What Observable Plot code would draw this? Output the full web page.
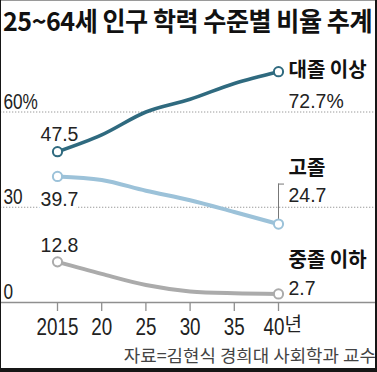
<!DOCTYPE html>
<html>
<head>
<meta charset="utf-8">
<script src="https://cdn.jsdelivr.net/npm/d3@7"></script>
<script src="https://cdn.jsdelivr.net/npm/@observablehq/plot@0.6"></script>
<style>
  html, body { margin: 0; padding: 0; background: #fff; }
  #wrap { position: relative; width: 377px; height: 372px; overflow: hidden; background: #fff; }
  #title { position: absolute; left: 3px; top: 4px; white-space: nowrap; font-family: "Noto Sans CJK KR", sans-serif; font-weight: 700; font-size: 26px; line-height: 32px; color: #111; transform-origin: 0 0; letter-spacing: -0.5px; }
  #chart { position: absolute; left: 0; top: 40px; }
  #source { position: absolute; right: 1px; top: 343px; white-space: nowrap; font-family: "Noto Sans CJK KR", sans-serif; font-size: 17px; line-height: 24px; color: #444; transform-origin: 100% 0; }
  .frame { position: absolute; background: #161616; }
</style>
</head>
<body>
<div id="wrap">
  <div id="title"></div>
  <div id="chart"></div>
  <div id="source"></div>
  <div class="frame" style="left:0;top:0;width:377px;height:1px;background:#9a9a9a"></div>
  <div class="frame" style="left:0;top:0;width:1px;height:372px"></div>
  <div class="frame" style="left:375px;top:0;width:2px;height:372px"></div>
  <div class="frame" style="left:0;top:368px;width:377px;height:4px"></div>
</div>
<script>
// ---- data ----
const titleText = "25~64세 인구 학력 수준별 비율 추계";
const sourceText = "자료=김현식 경희대 사회학과 교수";
const years = [2015, 2020, 2025, 2030, 2035, 2040];
const seriesNames = ["대졸 이상", "고졸", "중졸 이하"];
const college = [47.5, 52.8, 60.0, 64.0, 69.0, 72.7];
const highSchool = [39.7, 38.6, 35.2, 32.2, 28.5, 24.7];
const middleOrLess = [12.8, 9.0, 5.5, 3.5, 2.9, 2.7];
const yTickValues = [0, 30, 60];
const yTickLabels = ["0", "30", "60%"];
const xTickLabels = ["2015", "20", "25", "30", "35", "40"];
const yearSuffix = "년";

// ---- styles ----
const seriesColors = ["#2f6a7f", "#9cc2d9", "#ababab"];
const numFont = "'Liberation Sans', Arial, sans-serif";
const krFont = "'Noto Sans CJK KR', sans-serif";

const seriesValues = [college, highSchool, middleOrLess];
const rows = seriesNames.flatMap((s, k) => years.map((yr, i) => ({series: s, k, year: yr, value: seriesValues[k][i]})));
const firstPts = rows.filter(d => d.year === years[0]);
const lastPts = rows.filter(d => d.year === years[years.length - 1]);
const fmt = (v) => v.toFixed(1);

const lineMarks = seriesNames.map((s, k) =>
  Plot.line(rows.filter(d => d.k === k), {x: "year", y: "value", stroke: seriesColors[k], strokeWidth: k === 0 ? 3.6 : 4, curve: "monotone-x"})
);
const dotMarks = seriesNames.map((s, k) =>
  Plot.dot(rows.filter(d => d.k === k && (d.year === years[0] || d.year === years[years.length - 1])), {x: "year", y: "value", r: 4.6, fill: "white", stroke: seriesColors[k], strokeWidth: 2})
);

const valueOpts = {fontSize: 20.5, fill: "#222", className: "cond95"};
const axisOpts = {fill: "#222", className: "cond80"};

const W = 377, H = 305;
const chart = Plot.plot({
  width: W, height: H,
  marginLeft: 57, marginRight: 99, marginTop: 8, marginBottom: 43,
  x: {domain: [years[0], years[years.length - 1]], axis: null},
  y: {domain: [0, 80], axis: null},
  style: {fontFamily: numFont, color: "#222", background: "transparent", overflow: "visible"},
  marks: [
    // dotted gridlines
    Plot.ruleY(yTickValues.filter(v => v > 0), {stroke: "#9a9a9a", strokeWidth: 1, strokeDasharray: "1.3,1.7", insetLeft: -57, insetRight: -99}),
    // baseline
    Plot.ruleY([0], {stroke: "#8f8f8f", strokeWidth: 1.5, insetLeft: -57, insetRight: -99}),
    // x ticks
    Plot.axisX({ticks: years, tickSize: 9, tickFormat: () => "", label: null, stroke: "#8f8f8f", strokeWidth: 1.3}),
    // y tick labels
    Plot.text(yTickValues, {y: d => d, text: (d, i) => yTickLabels[i], frameAnchor: "left", textAnchor: "start", lineAnchor: "bottom", dx: -54, dy: -3.5, fontSize: 21.5, ...axisOpts}),
    // x tick labels
    Plot.text(years.slice(0, -1), {x: d => d, text: (d, i) => xTickLabels[i], frameAnchor: "bottom", lineAnchor: "top", dy: 16, fontSize: 23.5, ...axisOpts}),
    Plot.text(years.slice(-1), {x: d => d, text: () => xTickLabels[xTickLabels.length - 1], frameAnchor: "bottom", lineAnchor: "top", dy: 16, dx: -4.5, fontSize: 23.5, ...axisOpts}),
    Plot.text(years.slice(-1), {x: d => d, text: () => yearSuffix, frameAnchor: "bottom", lineAnchor: "top", textAnchor: "start", dy: 15, dx: 6, fontSize: 19, fontFamily: krFont, fill: "#222"}),
    // bracket for 고졸 label
    Plot.ruleX(lastPts.filter(d => d.k === 1), {x: "year", y1: "value", y2: "value", insetTop: -40, stroke: "#777", strokeWidth: 1}),
    Plot.ruleY(lastPts.filter(d => d.k === 1), {y: "value", x1: "year", x2: "year", insetRight: -6, dy: -40, stroke: "#777", strokeWidth: 1}),
    ...lineMarks,
    ...dotMarks,
    // start value labels
    Plot.text(firstPts.filter(d => d.k === 0), {x: "year", y: "value", text: d => fmt(d.value), lineAnchor: "bottom", dy: -11, dx: 2, ...valueOpts}),
    Plot.text(firstPts.filter(d => d.k === 1), {x: "year", y: "value", text: d => fmt(d.value), lineAnchor: "top", dy: 14.5, dx: 2, stroke: "white", strokeWidth: 8, ...valueOpts}),
    Plot.text(firstPts.filter(d => d.k === 2), {x: "year", y: "value", text: d => fmt(d.value), lineAnchor: "bottom", dy: -9.5, dx: 2, ...valueOpts}),
    // end labels: series names
    Plot.text(lastPts.filter(d => d.k === 0), {x: "year", y: "value", text: "series", textAnchor: "start", lineAnchor: "middle", dx: 10, dy: -1, fontSize: 20, fontWeight: "bold", fontFamily: krFont, fill: "#111"}),
    Plot.text(lastPts.filter(d => d.k === 1), {x: "year", y: "value", text: "series", textAnchor: "start", lineAnchor: "bottom", dx: 10, dy: -49, fontSize: 20, fontWeight: "bold", fontFamily: krFont, fill: "#111"}),
    Plot.text(lastPts.filter(d => d.k === 2), {x: "year", y: "value", text: "series", textAnchor: "start", lineAnchor: "bottom", dx: 10, dy: -27, fontSize: 20, fontWeight: "bold", fontFamily: krFont, fill: "#111"}),
    // end labels: values
    Plot.text(lastPts.filter(d => d.k === 0), {x: "year", y: "value", text: d => fmt(d.value) + "%", textAnchor: "start", lineAnchor: "top", dx: 10, dy: 22, ...valueOpts}),
    Plot.text(lastPts.filter(d => d.k === 1), {x: "year", y: "value", text: d => fmt(d.value), textAnchor: "start", lineAnchor: "top", dx: 10, dy: -36.5, ...valueOpts}),
    Plot.text(lastPts.filter(d => d.k === 2), {x: "year", y: "value", text: d => fmt(d.value), textAnchor: "start", lineAnchor: "bottom", dx: 10, dy: 1.5, ...valueOpts})
  ]
});
document.getElementById("chart").appendChild(chart);

// condense numeric text horizontally around each text's own anchor point
const squeeze = {cond95: 0.95, cond80: 0.8};
for (const [cls, k] of Object.entries(squeeze)) {
  d3.select(chart).selectAll(`.${cls} text`).attr("transform", function () {
    return (this.getAttribute("transform") || "") + ` scale(${k},1)`;
  });
}

const t = document.getElementById("title");
t.textContent = titleText;
const tw = t.getBoundingClientRect().width;
t.style.transform = `scaleX(${369 / tw})`;

const s = document.getElementById("source");
s.textContent = sourceText;
const sw = s.getBoundingClientRect().width;
s.style.transform = `scaleX(${252 / sw})`;
</script>
</body>
</html>
